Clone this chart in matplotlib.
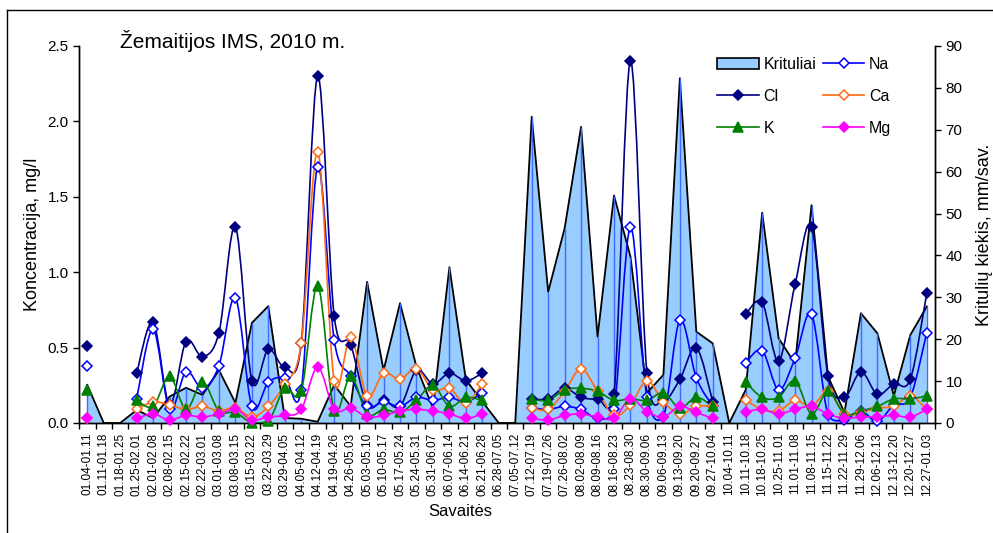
import numpy as np
import matplotlib
matplotlib.use('Agg')
import matplotlib.pyplot as plt
from matplotlib.path import Path
from matplotlib.patches import PathPatch, Patch
from matplotlib.lines import Line2D

plt.rcParams['font.family'] = ['Liberation Sans', 'DejaVu Sans']

nan = np.nan

weeks = ['01.04-01.11', '01.11-01.18', '01.18-01.25', '01.25-02.01', '02.01-02.08',
         '02.08-02.15', '02.15-02.22', '02.22-03.01', '03.01-03.08', '03.08-03.15',
         '03.15-03.22', '03.22-03.29', '03.29-04.05', '04.05-04.12', '04.12-04.19',
         '04.19-04.26', '04.26-05.03', '05.03-05.10', '05.10-05.17', '05.17-05.24',
         '05.24-05.31', '05.31-06.07', '06.07-06.14', '06.14-06.21', '06.21-06.28',
         '06.28-07.05', '07.05-07.12', '07.12-07.19', '07.19-07.26', '07.26-08.02',
         '08.02-08.09', '08.09-08.16', '08.16-08.23', '08.23-08.30', '08.30-09.06',
         '09.06-09.13', '09.13-09.20', '09.20-09.27', '09.27-10.04', '10.04-10.11',
         '10.11-10.18', '10.18-10.25', '10.25-11.01', '11.01-11.08', '11.08-11.15',
         '11.15-11.22', '11.22-11.29', '11.29-12.06', '12.06-12.13', '12.13-12.20',
         '12.20-12.27', '12.27-01.03']

# kritulu kiekis, mm/sav.
krituliai = [9.1, 0, 0, 3.1, 1.2, 6.3, 8.4, 6.7, 12.6, 4.8,
             23.9, 27.9, 1.2, 1.0, 0.3, 9.1, 4.0, 33.7, 12.6, 28.6,
             13.4, 3.6, 37.2, 10.3, 5.1, 0, 0, 73.1, 31.3, 46.5,
             70.7, 20.6, 54.3, 39.7, 7.2, 11.5, 82.3, 21.8, 19.0, 0,
             7.9, 50.2, 20.2, 14.2, 52.0, 11.1, 2.5, 26.2, 21.4, 6.5,
             21.0, 27.8]

# koncentracijos, mg/l
cl = [0.51, nan, nan, 0.33, 0.67, 0.12, 0.54, 0.44, 0.60, 1.30,
      0.28, 0.49, 0.37, 0.53, 2.30, 0.71, 0.52, 0.12, 0.15, 0.11,
      0.35, 0.26, 0.33, 0.28, 0.33, nan, nan, 0.16, 0.16, 0.23,
      0.17, 0.16, 0.19, 2.40, 0.33, 0.15, 0.29, 0.50, 0.14, nan,
      0.72, 0.80, 0.41, 0.92, 1.30, 0.31, 0.17, 0.34, 0.19, 0.26,
      0.29, 0.86]
na = [0.38, nan, nan, 0.16, 0.62, 0.09, 0.34, 0.23, 0.38, 0.83,
      0.11, 0.27, 0.30, 0.22, 1.70, 0.55, 0.31, 0.11, 0.14, 0.11,
      0.17, 0.15, 0.17, 0.14, 0.20, nan, nan, 0.10, 0.09, 0.11,
      0.09, 0.03, 0.09, 1.30, 0.17, 0.04, 0.68, 0.30, 0.11, nan,
      0.40, 0.48, 0.22, 0.43, 0.72, 0.05, 0.02, 0.08, 0.01, 0.12,
      0.17, 0.60]
ca = [0.035, nan, nan, 0.09, 0.14, 0.12, 0.09, 0.11, 0.08, 0.10,
      0.04, 0.11, 0.26, 0.53, 1.80, 0.28, 0.57, 0.18, 0.33, 0.29,
      0.36, 0.22, 0.23, 0.13, 0.26, nan, nan, 0.10, 0.09, 0.21,
      0.36, 0.21, 0.05, 0.12, 0.28, 0.14, 0.06, 0.11, 0.11, nan,
      0.15, 0.09, 0.08, 0.15, 0.11, 0.21, 0.06, 0.07, 0.10, 0.11,
      0.18, 0.09]
k = [0.22, nan, nan, 0.15, 0.11, 0.31, 0.09, 0.27, 0.08, 0.07,
     0.0, 0.01, 0.23, 0.21, 0.91, 0.08, 0.31, 0.06, 0.09, 0.07,
     0.15, 0.25, 0.11, 0.17, 0.15, nan, nan, 0.16, 0.15, 0.22,
     0.23, 0.21, 0.15, 0.16, 0.15, 0.20, 0.10, 0.17, 0.11, nan,
     0.27, 0.17, 0.17, 0.28, 0.06, 0.21, 0.06, 0.08, 0.11, 0.16,
     0.16, 0.18]
mg = [0.035, nan, nan, 0.03, 0.06, 0.02, 0.05, 0.04, 0.06, 0.09,
      0.02, 0.04, 0.05, 0.09, 0.37, 0.09, 0.10, 0.04, 0.05, 0.08,
      0.09, 0.08, 0.06, 0.03, 0.06, nan, nan, 0.03, 0.02, 0.05,
      0.06, 0.04, 0.03, 0.16, 0.075, 0.04, 0.11, 0.07, 0.03, nan,
      0.075, 0.09, 0.06, 0.09, 0.11, 0.06, 0.03, 0.04, 0.04, 0.05,
      0.04, 0.09]


def smooth_path(x, y):
    # Excel-like smoothed line: Catmull-Rom segments as cubic Bezier curves
    verts, codes = [], []
    y = np.asarray(y, dtype=float)
    ok = ~np.isnan(y)
    i = 0
    n = len(y)
    while i < n:
        if not ok[i]:
            i += 1
            continue
        j = i
        while j + 1 < n and ok[j + 1]:
            j += 1
        if j > i:
            px = np.asarray(x[i:j + 1], dtype=float)
            py = y[i:j + 1]
            m = len(px)
            verts.append((px[0], py[0]))
            codes.append(Path.MOVETO)
            for s in range(m - 1):
                p0 = max(s - 1, 0)
                p3 = min(s + 2, m - 1)
                c1 = (px[s] + (px[s + 1] - px[p0]) / 6,
                      max(py[s] + (py[s + 1] - py[p0]) / 6, 0))
                c2 = (px[s + 1] - (px[p3] - px[s]) / 6,
                      max(py[s + 1] - (py[p3] - py[s]) / 6, 0))
                verts += [c1, c2, (px[s + 1], py[s + 1])]
                codes += [Path.CURVE4] * 3
        i = j + 1
    return Path(verts, codes)


x = np.arange(len(weeks))

fig = plt.figure(figsize=(9.93, 5.33), dpi=100)
ax = fig.add_axes([0.0796, 0.2064, 0.862, 0.7073])
ax2 = ax.twinx()

# krituliai (area, right axis)
ax.fill_between(x, 0, krituliai, facecolor='#99ccff', edgecolor='none', zorder=1)
ax.plot(x, krituliai, color='black', lw=1.3, zorder=2)
ax.vlines(x, 0, krituliai, color='#3d6bff', lw=1.0, zorder=2)

ax.set_xlim(-0.5, len(weeks) - 0.5)
ax.set_ylim(0, 90)
ax.set_yticks(range(0, 91, 10))
ax.yaxis.tick_right()
ax.yaxis.set_label_position('right')
ax.set_ylabel('Kritulių kiekis, mm/sav.', fontsize=13, labelpad=10)

series = [
    ('Cl', cl, '#000080', 'D', '#000080'),
    ('Na', na, '#0000ff', 'D', 'white'),
    ('Ca', ca, '#ff6a13', 'D', 'white'),
    ('K', k, '#008000', '^', '#008000'),
    ('Mg', mg, '#ff00ff', 'D', '#ff00ff'),
]
handles = {}
for name, vals, col, mk, fc in series:
    ax2.add_patch(PathPatch(smooth_path(x, vals), fill=False, edgecolor=col, lw=1.2, zorder=3))
    ms = 6.5 if mk == '^' else 5.5
    ax2.plot(x, vals, linestyle='none', marker=mk, markersize=ms, markerfacecolor=fc,
             markeredgecolor=col, markeredgewidth=1.1, clip_on=False, zorder=4)
    handles[name] = Line2D([], [], color=col, lw=1.2, marker=mk, markersize=ms,
                           markerfacecolor=fc, markeredgecolor=col, markeredgewidth=1.1)

ax2.set_ylim(0, 2.5)
ax2.set_yticks(np.arange(0, 2.51, 0.5))
ax2.set_yticklabels(['%.1f' % v for v in np.arange(0, 2.51, 0.5)])
ax2.yaxis.tick_left()
ax2.yaxis.set_label_position('left')
ax2.set_ylabel('Koncentracija, mg/l', fontsize=13, labelpad=5)

for a in (ax, ax2):
    a.spines['top'].set_visible(False)
    a.tick_params(axis='y', direction='out', length=4, width=1, labelsize=11)
    for s in a.spines.values():
        s.set_linewidth(1)

ax.set_xticks(x)
ax.set_xticklabels(weeks, rotation=90, fontsize=8.5)
ax.set_xticks(np.arange(-0.5, len(weeks), 1), minor=True)
ax.tick_params(axis='x', which='major', length=0, pad=7)
ax.tick_params(axis='x', which='minor', length=4, width=1, direction='out')
ax.set_xlabel('Savaitės', fontsize=12)
ax.xaxis.set_label_coords(0.445, -0.215)

ax2.text(0.048, 1.012, 'Žemaitijos IMS, 2010 m.', transform=ax2.transAxes,
         fontsize=15, ha='left', va='center')

leg_handles = [Patch(facecolor='#99ccff', edgecolor='black', lw=1.2),
               handles['Cl'], handles['K'], handles['Na'], handles['Ca'], handles['Mg']]
leg_labels = ['Krituliai', 'Cl', 'K', 'Na', 'Ca', 'Mg']
fig.legend(leg_handles, leg_labels, loc='upper left', bbox_to_anchor=(0.708, 0.92),
           ncol=2, frameon=False, fontsize=11.5, handlelength=2.6, handletextpad=0.3,
           labelspacing=1.05, columnspacing=0.4)

# outer frame (left and top edges of the chart area)
fig.add_artist(Line2D([7 / 993, 7 / 993], [0, 1 - 10 / 533], transform=fig.transFigure,
                      color='black', lw=1))
fig.add_artist(Line2D([7 / 993, 1], [1 - 10 / 533, 1 - 10 / 533], transform=fig.transFigure,
                      color='black', lw=1))

plt.savefig('out.png', dpi=100)
